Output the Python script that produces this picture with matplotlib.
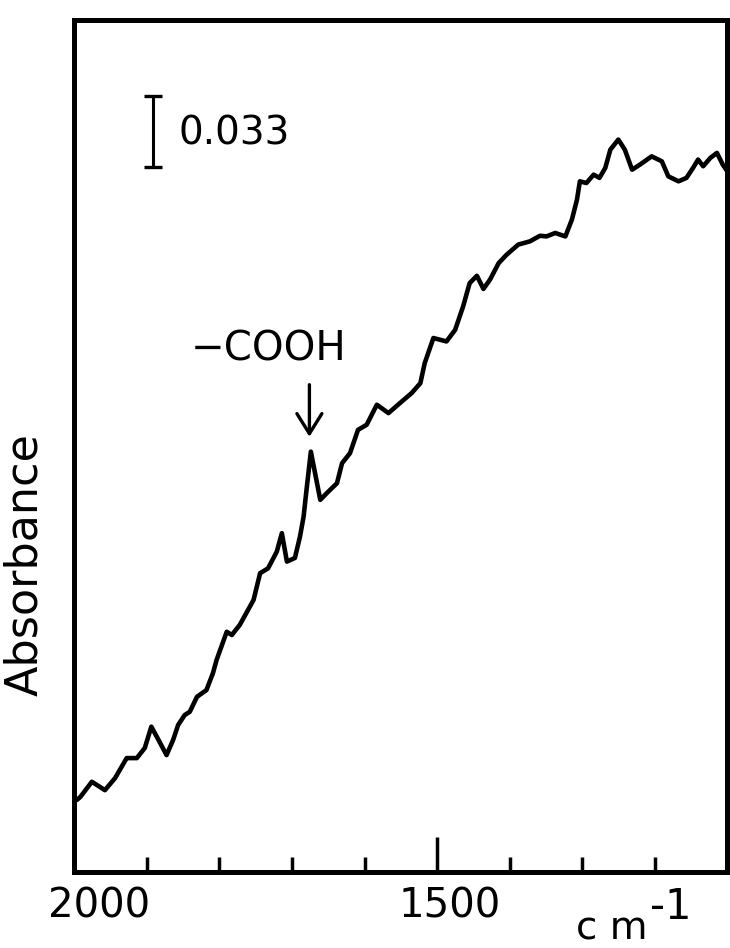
import matplotlib
matplotlib.use("Agg")
import matplotlib.pyplot as plt
import matplotlib.transforms as mtransforms

# ---- data (wavenumber in cm^-1, absorbance) ----
wavenumber = [1997, 1992, 1976, 1958, 1944, 1928, 1914, 1903, 1894, 1884, 1873, 1864,
              1857, 1848, 1841, 1831, 1818, 1809, 1804, 1790, 1783, 1772, 1763, 1753,
              1744, 1733, 1721, 1714, 1707, 1696, 1689, 1684, 1680, 1674, 1661, 1650,
              1638, 1631, 1620, 1609, 1597, 1583, 1567, 1551, 1535, 1523, 1517, 1505,
              1487, 1475, 1464, 1455, 1445, 1436, 1427, 1415, 1404, 1388, 1372, 1358,
              1349, 1337, 1323, 1314, 1307, 1303, 1294, 1284, 1276, 1268, 1261, 1250,
              1241, 1231, 1220, 1204, 1190, 1181, 1167, 1156, 1147, 1140, 1133, 1123,
              1114, 1106, 1100]
absorbance = [0.0335, 0.0349, 0.0420, 0.0381, 0.0437, 0.0530, 0.0530, 0.0577, 0.0676,
              0.0614, 0.0544, 0.0614, 0.0684, 0.0730, 0.0745, 0.0815, 0.0846, 0.0925,
              0.0986, 0.1117, 0.1102, 0.1149, 0.1204, 0.1265, 0.1389, 0.1412, 0.1489,
              0.1575, 0.1443, 0.1460, 0.1559, 0.1652, 0.1776, 0.1954, 0.1730, 0.1768,
              0.1807, 0.1900, 0.1947, 0.2055, 0.2079, 0.2172, 0.2133, 0.2180, 0.2226,
              0.2272, 0.2365, 0.2482, 0.2466, 0.2520, 0.2629, 0.2737, 0.2771, 0.2710,
              0.2753, 0.2830, 0.2869, 0.2916, 0.2931, 0.2957, 0.2954, 0.2970, 0.2954,
              0.3032, 0.3125, 0.3210, 0.3202, 0.3241, 0.3226, 0.3272, 0.3357, 0.3404,
              0.3357, 0.3264, 0.3288, 0.3326, 0.3303, 0.3233, 0.3210, 0.3226, 0.3272,
              0.3311, 0.3280, 0.3319, 0.3342, 0.3288, 0.3258]

major_ticks = [2000, 1500]
major_labels = ["2000", "1500"]
minor_ticks = [1900, 1800, 1700, 1600, 1400, 1300, 1200]

scale_bar_value = 0.033
scale_bar_label = "0.033"
peak_label = "\u2212COOH"
peak_position = 1676
y_label = "Absorbance"
x_unit = "c m"
x_unit_sup = "-1"

# ---- figure ----
fig = plt.figure(figsize=(7.30, 9.48), dpi=100)
ax = fig.add_axes([0.102, 0.080, 0.894, 0.899])

ax.plot(wavenumber, absorbance, color="black", lw=3.3,
        solid_joinstyle="round", solid_capstyle="round")

ax.set_xlim(2000, 1100)
ax.set_ylim(0, 0.396)

for sp in ax.spines.values():
    sp.set_linewidth(3.6)
    sp.set_color("black")

ax.set_yticks([])
ax.set_xticks(major_ticks)
ax.set_xticklabels(major_labels)
ax.set_xticks(minor_ticks, minor=True)
ax.tick_params(axis="x", which="major", direction="in", length=25, width=2.5,
               pad=10, labelsize=29, colors="black")
ax.tick_params(axis="x", which="minor", direction="in", length=11, width=2.5)

offsets = [0.25, 0.13]
for lab, dx in zip(ax.get_xticklabels(), offsets):
    lab.set_transform(lab.get_transform() +
                      mtransforms.ScaledTranslation(dx, 0, fig.dpi_scale_trans))

# scale bar
ax.errorbar([1891], [0.3443], yerr=[scale_bar_value / 2], fmt="none",
            ecolor="black", elinewidth=2.2, capsize=6.5, capthick=2.4)
ax.text(1857, 0.338, scale_bar_label, fontsize=28, ha="left", va="baseline",
        family=["DejaVu Sans"])

# -COOH annotation
ax.text(1732, 0.2427, peak_label, fontsize=29, ha="center", va="center",
        family=["DejaVu Sans"])
ax.annotate("", xy=(peak_position, 0.2023), xytext=(peak_position, 0.2265),
            arrowprops=dict(arrowstyle="->,head_length=0.72,head_width=0.45",
                            lw=2.4, color="black", mutation_scale=20,
                            shrinkA=0, shrinkB=0))

# axis labels
fig.text(25 / 730, 1 - 565 / 948, y_label, rotation=90, ha="center", va="center",
         fontsize=32, family=["DejaVu Sans"])
fig.text(576 / 730, 1 - 939 / 948, x_unit, ha="left", va="baseline", fontsize=28,
         family=["DejaVu Sans"])
fig.text(650 / 730, 1 - 886 / 948, x_unit_sup, ha="left", va="top", fontsize=30,
         family=["DejaVu Sans"])

fig.savefig("out.png", dpi=100)
